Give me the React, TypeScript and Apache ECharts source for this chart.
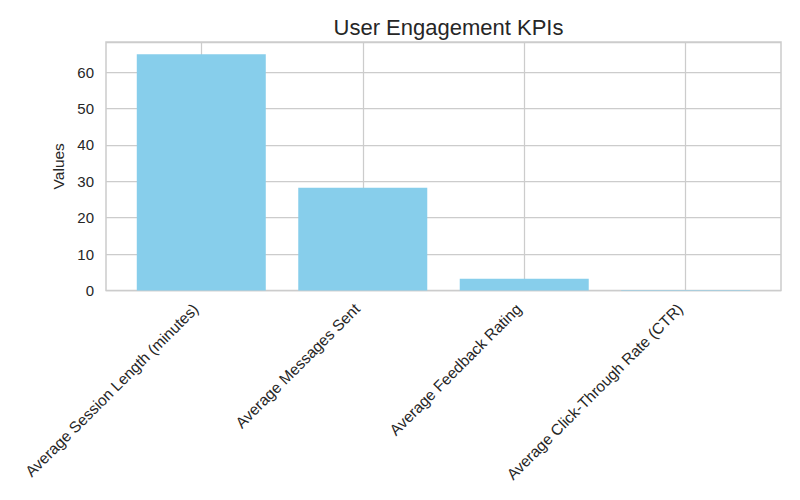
import React, { useEffect, useRef } from "react";
import * as echarts from "echarts";

const categories = [
  "Average Session Length (minutes)",
  "Average Messages Sent",
  "Average Feedback Rating",
  "Average Click-Through Rate (CTR)",
];
const values = [64.9, 28.2, 3.2, 0.12];
const yTicks = [0, 10, 20, 30, 40, 50, 60];
const positions = [0, 1, 2, 3];

export default function App() {
  const ref = useRef<HTMLDivElement>(null);
  useEffect(() => {
    if (!ref.current) return;
    const chart = echarts.init(ref.current, null, { renderer: "svg" });
    const textColor = "#262626";
    const gridColor = "#cccccc";
    const font = "Liberation Sans, Arial, sans-serif";
    chart.setOption({
      animation: false,
      backgroundColor: "#ffffff",
      title: {
        text: "User Engagement KPIs",
        left: 443.5,
        textAlign: "center",
        top: 11,
        textStyle: { fontSize: 22, fontWeight: "normal", color: textColor, fontFamily: font },
      },
      grid: {
        left: 106,
        right: 19,
        top: 42,
        bottom: 209.5,
        show: true,
        borderColor: gridColor,
        borderWidth: 1.5,
        backgroundColor: "#ffffff",
      },
      xAxis: {
        type: "value",
        min: -0.59,
        max: 3.59,
        axisLine: { show: false },
        axisTick: { show: false, customValues: positions },
        splitLine: { show: false },
        axisLabel: {
          customValues: positions,
          rotate: 45,
          margin: 10,
          padding: [0, 8, 0, 0],
          fontSize: 15.5,
          color: textColor,
          fontFamily: font,
          formatter: (v: number) => categories[Math.round(v)] ?? "",
        },
      },
      yAxis: {
        type: "value",
        min: 0,
        max: 68.25,
        interval: 10,
        name: "Values",
        nameLocation: "middle",
        nameGap: 38,
        nameTextStyle: { fontSize: 15.5, color: textColor, fontFamily: font },
        axisLine: { show: false },
        axisTick: { show: false },
        axisLabel: {
          showMaxLabel: false,
          margin: 12,
          fontSize: 15,
          color: textColor,
          fontFamily: font,
          formatter: (v: number) => (yTicks.includes(v) ? String(v) : ""),
        },
        splitLine: { show: true, lineStyle: { color: gridColor, width: 1.25 } },
      },
      series: [
        {
          type: "line",
          data: [],
          z: 1,
          silent: true,
          markLine: {
            silent: true,
            symbol: "none",
            z: 1,
            label: { show: false },
            lineStyle: { color: gridColor, type: "solid", width: 1.25 },
            data: positions.map((p) => ({ xAxis: p })),
          },
        },
        {
          type: "bar",
          z: 3,
          barWidth: 129,
          data: values.map((v, i) => [positions[i], v]),
          itemStyle: { color: "#87CEEB" },
        },
      ],
    });
    return () => chart.dispose();
  }, []);
  return <div ref={ref} style={{ width: 800, height: 500, position: "absolute", left: 0, top: 0 }} />;
}
